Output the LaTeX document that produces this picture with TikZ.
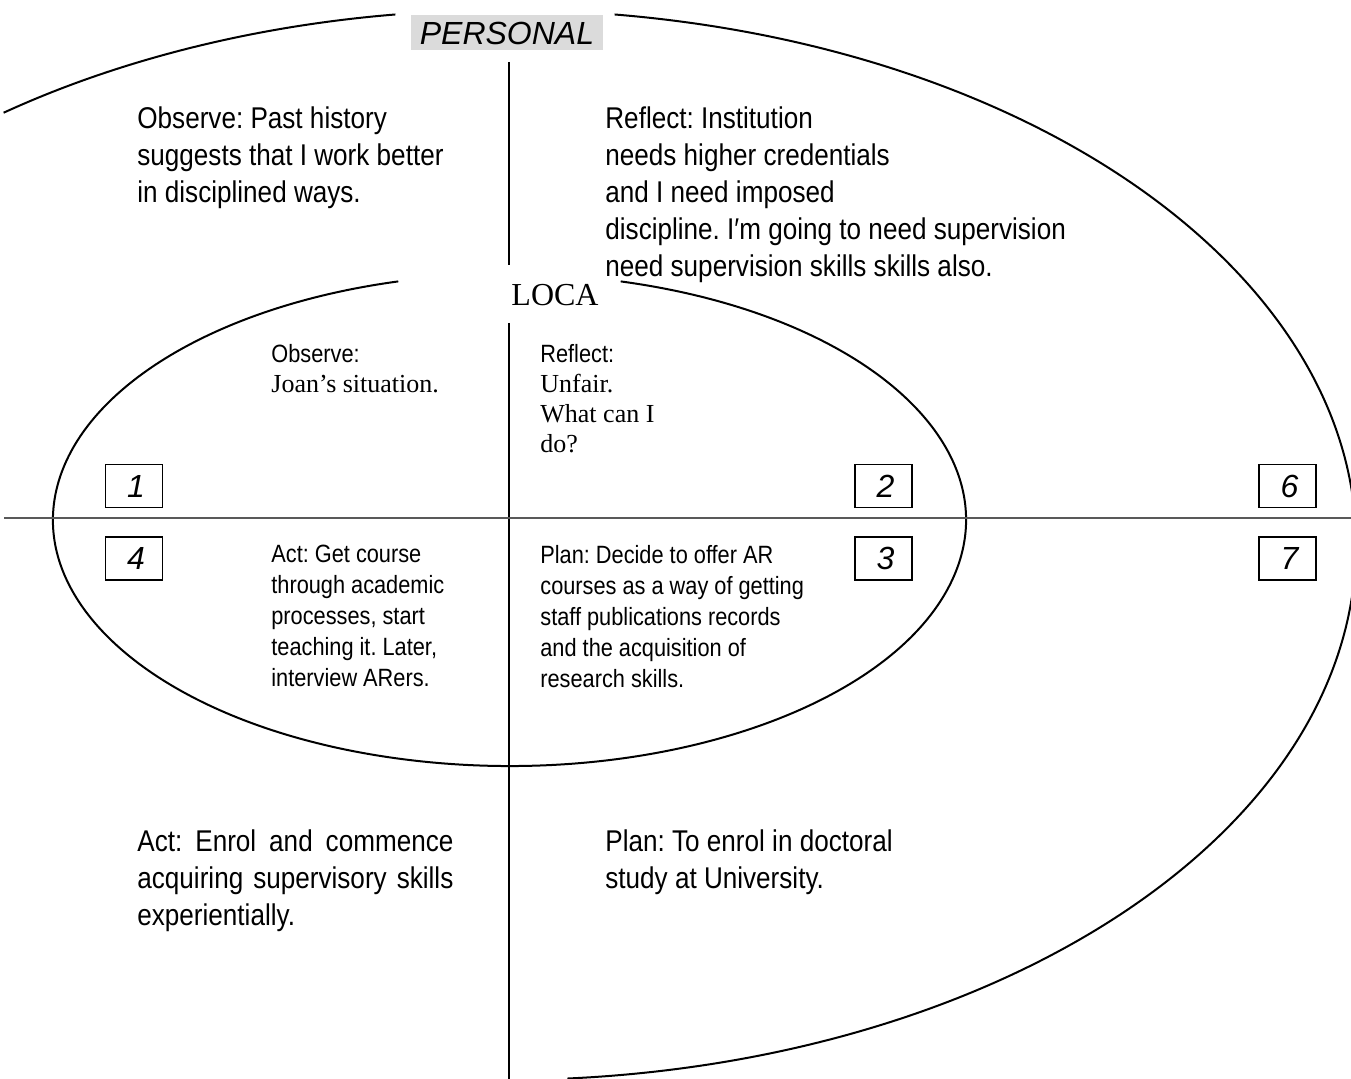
\documentclass[tikz,border=0pt]{standalone}
\usepackage{fontspec}
\setmainfont{Liberation Serif}
\newfontfamily\narrowsans{Liberation Sans}[FakeStretch=0.87]
\newfontfamily\plainsans{Liberation Sans}
\usetikzlibrary{positioning}
\frenchspacing

\begin{document}
\begin{tikzpicture}[x=0.5pt, y=-0.5pt,
    ring/.style={line width=1pt},
    axis/.style={line width=1pt},
    numbox/.style={draw, line width=0.8pt, minimum width=28.5pt, minimum height=21.5pt, inner sep=0pt,
        font=\plainsans\itshape\fontsize{16}{16}\selectfont},
    bigtext/.style={anchor=north west, inner sep=0pt, align=left,
        font=\narrowsans\fontsize{15}{18.5}\selectfont},
    smalltext/.style={anchor=north west, inner sep=0pt, align=left,
        font=\narrowsans\fontsize{12.5}{15.5}\selectfont}]

    \useasboundingbox (0,0) rectangle (1351,1079);
    \clip (0,0) rectangle (1351,1079);

    % anel externo (pessoal)
    \draw[ring] (505,545) ++(-126.1:851 and 535) arc[start angle=-126.1, end angle=-97.4, x radius=851, y radius=535];
    \draw[ring] (505,545) ++(-82.6:851 and 535) arc[start angle=-82.6, end angle=85.8, x radius=851, y radius=535];

    % anel interno (local)
    \draw[ring] (509.5,520) ++(-75.9:456.5 and 246) arc[start angle=-75.9, end angle=255.9, x radius=456.5, y radius=246];

    % eixos
    \coordinate (vtop) at (509,62);
    \coordinate (vmid) at (509,265);
    \coordinate (vlow) at (509,323);
    \coordinate (vbot) at (509,1079);
    \coordinate (hleft) at (4,518);
    \coordinate (hright) at (1351,518);
    \draw[axis] (vtop) -- (vmid) (vlow) -- (vbot);
    \draw[line width=0.7pt, black!65] (hleft) -- (hright);

    % titulos
    \node[fill=black!14, minimum width=96pt, minimum height=17.5pt, inner sep=0pt,
        font=\plainsans\itshape\fontsize{16}{16}\selectfont] (personal) at (507,33) {PERSONAL};
    \node[inner sep=0pt, font=\rmfamily\fontsize{16}{16}\selectfont] (loca) at (555,295) {LOCA};

    % caixas numeradas
    \node[numbox] (box1) at (134,486) {\hspace{2pt}1};
    \node[numbox] (box2) at (883.5,486) {\hspace{2pt}2};
    \node[numbox] (box6) at (1287.5,486) {\hspace{2pt}6};
    \node[numbox, below=14pt of box1] (box4) {\hspace{2pt}4};
    \node[numbox, below=14pt of box2] (box3) {\hspace{2pt}3};
    \node[numbox, below=14pt of box6] (box7) {\hspace{2pt}7};

    % textos do ciclo pessoal
    \node[bigtext] (pobserve) at (137,106) {Observe: Past history\\suggests that I work better\\in disciplined ways.};
    \node[bigtext] (preflect) at (605,106) {Reflect: Institution\\needs higher credentials\\and I need imposed\\discipline. I′m going to need supervision\\need supervision skills skills also.};
    \node[bigtext] (pact) at (137,829) {\makebox[158pt][s]{Act: Enrol and commence}\\\makebox[158pt][s]{acquiring supervisory skills}\\experientially.};
    \node[bigtext] (pplan) at (605,829) {Plan: To enrol in doctoral\\study at University.};

    % textos do ciclo local
    \node[smalltext, font=\narrowsans\fontsize{12.5}{15}\selectfont] (lobserve) at (271,344) {Observe:\\{\rmfamily\fontsize{13}{15}\selectfont Joan’s situation.}};
    \node[smalltext, font=\narrowsans\fontsize{12.5}{15}\selectfont] (lreflect) at (540,344) {Reflect:\\{\rmfamily\fontsize{13}{15}\selectfont Unfair.}\\{\rmfamily\fontsize{13}{15}\selectfont What can I}\\{\rmfamily\fontsize{13}{15}\selectfont do?}};
    \node[smalltext] (lact) at (271,545) {Act: Get course\\through academic\\processes, start\\teaching it. Later,\\interview ARers.};
    \node[smalltext] (lplan) at (540,545) {Plan: Decide to offer AR\\courses as a way of getting\\staff publications records\\and the acquisition of\\research skills.};

\end{tikzpicture}
\end{document}
